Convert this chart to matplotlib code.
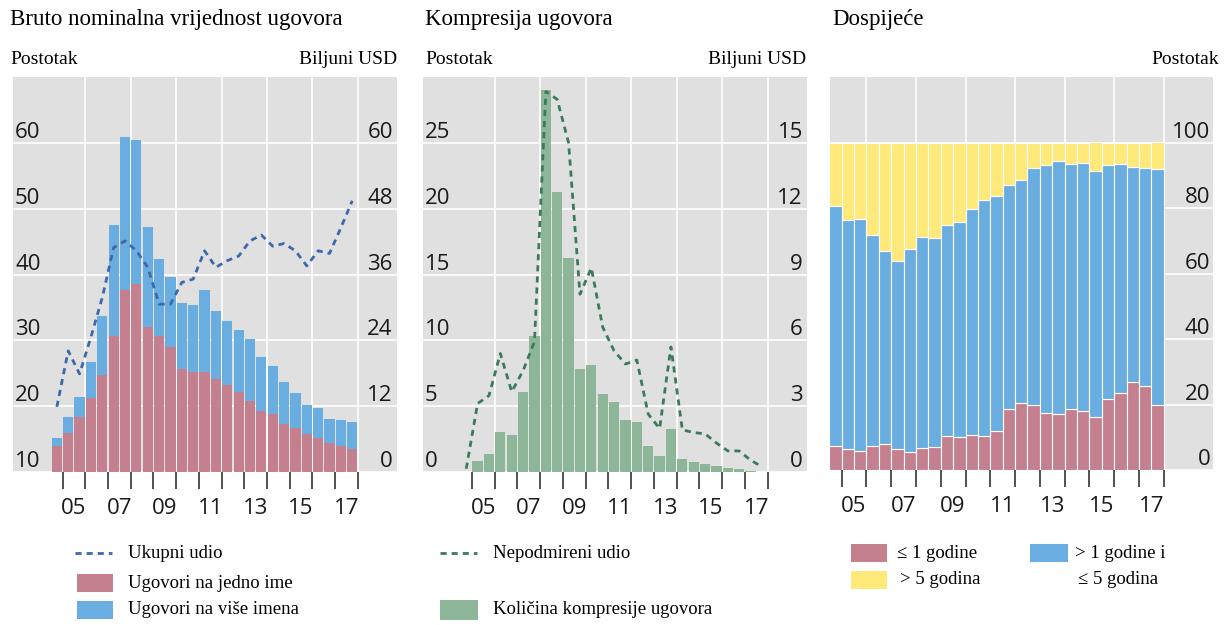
import matplotlib.pyplot as plt
import numpy as np
from matplotlib.lines import Line2D
from matplotlib.patches import Rectangle
from matplotlib.transforms import blended_transform_factory


### DATA ###

# half-year periods from 2004 H2 to 2017 H2
periods = [(2004, 2)] + [(y, h) for y in range(2005, 2018) for h in (1, 2)]
x = np.array([y + (0.25 if h == 1 else 0.75) for y, h in periods])
year_labels = ['05', '07', '09', '11', '13', '15', '17']

# Bruto nominalna vrijednost ugovora (bilijuni USD) i ukupni udio (%)
single_name = [4.7, 7.1, 10.1, 13.5, 17.6, 24.7, 33.2, 34.2, 26.5, 24.8, 22.7, 18.7, 18.3, 18.3,
               17.0, 15.8, 14.5, 12.9, 11.2, 10.6, 8.8, 8.0, 7.0, 6.2, 5.3, 4.7, 4.2]
multi_name = [1.5, 2.9, 3.5, 6.6, 10.8, 20.3, 27.9, 26.4, 18.2, 14.1, 12.9, 12.1, 12.2, 14.8,
              12.3, 11.8, 11.3, 11.3, 9.7, 8.8, 7.6, 6.4, 5.2, 5.4, 4.4, 4.8, 5.0]
total_share = [19.9, 28.4, 24.9, 30.5, 36.5, 44.1, 45.1, 43.6, 41.1, 35.5, 35.5, 38.8, 39.3, 43.6,
               41.1, 42.1, 42.8, 45.1, 46.0, 44.3, 44.7, 43.6, 41.3, 43.6, 43.2, 47.1, 51.2]

# Kompresija ugovora (bilijuni USD) i nepodmireni udio (%)
compression = [0.0, 0.5, 0.83, 1.82, 1.70, 3.64, 6.21, 17.4, 12.76, 9.73, 4.70, 4.89, 3.56, 3.18,
               2.39, 2.30, 1.17, 0.73, 1.97, 0.58, 0.45, 0.38, 0.26, 0.18, 0.14, 0.05, 0.02]
outstanding_share = [0.25, 5.2, 5.8, 9.0, 6.1, 7.7, 9.9, 28.9, 28.3, 25.0, 13.5, 15.5, 11.0, 9.2,
                     8.2, 8.5, 4.4, 3.3, 9.5, 3.2, 3.0, 2.9, 2.2, 1.6, 1.6, 0.9, 0.4]

# Dospijece (%)
mat_le1 = [7.4, 6.3, 5.8, 7.4, 7.9, 6.5, 5.5, 6.6, 6.9, 10.3, 10.0, 10.6, 10.3, 11.8,
           18.5, 20.5, 19.9, 17.4, 17.0, 18.7, 18.0, 16.2, 21.6, 23.5, 26.8, 25.8, 19.9]
mat_1to5 = [73.1, 69.9, 70.9, 64.3, 58.9, 57.3, 62.1, 64.5, 64.0, 64.6, 65.6, 69.1, 72.0, 71.9,
            68.5, 68.1, 72.2, 75.7, 77.3, 74.7, 75.6, 75.2, 71.5, 69.9, 65.8, 66.5, 71.9]
mat_gt5 = [19.5, 23.8, 23.3, 28.3, 33.2, 36.2, 32.4, 28.9, 29.1, 25.1, 24.4, 20.3, 17.7, 16.3,
           13.0, 11.4, 7.9, 6.9, 5.7, 6.6, 6.4, 8.6, 6.9, 6.6, 7.4, 7.7, 8.2]


### STYLE ###

plt.rcParams['font.family'] = 'Liberation Serif'
NUM_FONT = 'Open Sans'
BG = '#e0e0e0'
RED = '#c4808f'
BLUE = '#6aade0'
YELLOW = '#fee97a'
GREEN = '#8db597'
LINE_BLUE = '#3d68ad'
LINE_GREEN = '#3b7a5b'
DASH = (0, (2.2, 1.8))

W, H = 1230, 625
fig = plt.figure(figsize=(12.3, 6.25), dpi=100)


def fx(px):
    return px / W


def fy(py):
    return 1 - py / H


def panel(left, right, top, bottom):
    return fig.add_axes([fx(left), fy(bottom), (right - left) / W, (bottom - top) / H])


def no_yticks(ax):
    ax.tick_params(axis='y', left=False, right=False, labelleft=False, labelright=False)


def style_axis(ax, xlim):
    ax.set_facecolor(BG)
    for s in ax.spines.values():
        s.set_visible(False)
    ax.set_xlim(*xlim)
    ax.set_xticks(np.arange(2005, 2019), labels=[])
    ax.set_xticks(np.arange(2005.5, 2018, 2), labels=year_labels, minor=True)
    ax.tick_params(axis='x', which='major', length=12, width=1.2, color='#333333')
    ax.tick_params(axis='x', which='minor', length=0, pad=19, labelsize=16,
                   labelcolor='#1a1a1a', labelfontfamily=NUM_FONT)
    no_yticks(ax)
    ax.yaxis.grid(True, color='white', lw=1.2)
    ax.set_axisbelow(True)
    for xv in np.arange(2006, 2019, 2):
        ax.axvline(xv, color='white', lw=1.2, zorder=0.6)


def y_labels(ax, values, side, dx):
    tr = blended_transform_factory(ax.transAxes, ax.transData)
    for v in values:
        ax.annotate(str(v), xy=(0 if side == 'left' else 1, v), xycoords=tr,
                    xytext=(dx, 3.5), textcoords='offset points',
                    ha=side, va='baseline', fontsize=16, family=NUM_FONT,
                    color='#1a1a1a', annotation_clip=False)


def make_twin(ax, ylim):
    tw = ax.twinx()
    tw.set_ylim(*ylim)
    for s in tw.spines.values():
        s.set_visible(False)
    # twinx puts the ticks back on the host axis, so hide them on both
    no_yticks(tw)
    no_yticks(ax)
    return tw


def head(x0, title, left_unit, right_unit, right_x):
    fig.text(fx(x0), fy(20), title, fontsize=16.5, va='center', ha='left')
    if left_unit:
        fig.text(fx(x0), fy(60), left_unit, fontsize=14, va='center', ha='left')
    fig.text(fx(right_x), fy(60), right_unit, fontsize=14, va='center', ha='right')


def leg_line(x0, x1, y, color):
    fig.add_artist(Line2D([fx(x0), fx(x1)], [fy(y), fy(y)], transform=fig.transFigure,
                          color=color, lw=2, ls=DASH))


def leg_box(x0, x1, y0, y1, color):
    fig.add_artist(Rectangle((fx(x0), fy(y1)), (x1 - x0) / W, (y1 - y0) / H,
                             transform=fig.transFigure, color=color, lw=0))


def leg_text(x0, y, s):
    fig.text(fx(x0), fy(y), s, fontsize=13.5, va='center', ha='left')


### PANEL 1 ###

ax1 = panel(13, 397, 77, 472)
style_axis(ax1, (2002.82, 2019.72))
ax1.set_ylim(0, 72)
ax1.set_yticks(np.arange(0, 61, 12))
ax1.bar(x, single_name, width=0.45, color=RED)
ax1.bar(x, multi_name, bottom=single_name, width=0.45, color=BLUE)
ax1b = make_twin(ax1, (10, 70))
ax1b.plot(x, total_share, color=LINE_BLUE, lw=2, ls=DASH)
y_labels(ax1b, range(10, 61, 10), 'left', 1.5)
y_labels(ax1, range(0, 61, 12), 'right', -3)
head(10, 'Bruto nominalna vrijednost ugovora', 'Postotak', 'Biljuni USD', 397)

leg_line(75, 112, 553, LINE_BLUE)
leg_text(128, 553, 'Ukupni udio')
leg_box(77, 113, 574, 592, RED)
leg_text(128, 583, 'Ugovori na jedno ime')
leg_box(77, 113, 601, 619, BLUE)
leg_text(128, 610, 'Ugovori na više imena')

### PANEL 2 ###

ax2 = panel(423, 807, 77, 472)
style_axis(ax2, (2002.85, 2019.73))
ax2.set_ylim(0, 18)
ax2.set_yticks(np.arange(0, 16, 3))
ax2.bar(x, compression, width=0.45, color=GREEN)
ax2b = make_twin(ax2, (0, 30))
ax2b.plot(x, outstanding_share, color=LINE_GREEN, lw=2, ls=DASH)
y_labels(ax2b, range(0, 26, 5), 'left', 1.5)
y_labels(ax2, range(0, 16, 3), 'right', -3)
head(425, 'Kompresija ugovora', 'Postotak', 'Biljuni USD', 806)

leg_line(440, 477, 553, LINE_GREEN)
leg_text(493, 553, 'Nepodmireni udio')
leg_box(440, 478, 600, 620, GREEN)
leg_text(493, 610, 'Količina kompresije ugovora')

### PANEL 3 ###

ax3 = panel(830, 1213, 77, 470)
style_axis(ax3, (2004.53, 2019.99))
ax3.set_ylim(0, 120)
ax3.set_yticks(np.arange(0, 101, 20))
bottom_mid = np.array(mat_le1)
bottom_top = bottom_mid + np.array(mat_1to5)
ax3.bar(x, mat_le1, width=0.5, color=RED, edgecolor='white', lw=0.8)
ax3.bar(x, mat_1to5, bottom=bottom_mid, width=0.5, color=BLUE, edgecolor='white', lw=0.8)
ax3.bar(x, mat_gt5, bottom=bottom_top, width=0.5, color=YELLOW, edgecolor='white', lw=0.8)
y_labels(ax3, range(0, 101, 20), 'right', -2)
head(832, 'Dospijeće', None, 'Postotak', 1219)

leg_box(851, 887, 544, 562, RED)
leg_text(897, 553, '≤ 1 godine')
leg_box(851, 887, 571, 589, YELLOW)
leg_text(900, 580, '> 5 godina')
leg_box(1030, 1068, 544, 562, BLUE)
leg_text(1075, 553, '> 1 godine i')
leg_text(1078, 580, '≤ 5 godina')

fig.savefig('out.png', dpi=100)
